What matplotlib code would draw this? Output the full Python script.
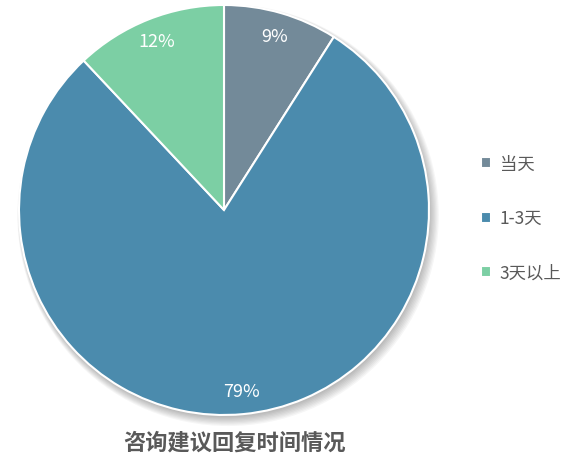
import matplotlib.pyplot as plt
from matplotlib.patches import Circle

plt.rcParams['font.family'] = ['Noto Sans CJK SC', 'DejaVu Sans']

labels = ['当天', '1-3天', '3天以上']
values = [9, 79, 12]
colors = ['#738a99', '#4b8bad', '#7ccfa4']
title = '咨询建议回复时间情况'

fig = plt.figure(figsize=(5.77, 4.64), dpi=100)
# pie box: center (224,211) px, radius 205 px
ax = fig.add_axes([19/577, 48/464, 410/577, 410/464])

# soft shadow under the pie
for i in range(8):
    ax.add_patch(Circle((0.006 + i*0.002, -0.012 - i*0.002), 1.0 + i*0.004,
                        color='black', alpha=0.035, lw=0, zorder=0, clip_on=False))

wedges, texts, autotexts = ax.pie(
    values, colors=colors, startangle=90, counterclock=False, radius=1.0,
    autopct='%d%%', pctdistance=0.885,
    wedgeprops=dict(edgecolor='white', linewidth=1.5),
    textprops=dict(color='white', fontsize=13))
for w in wedges:
    w.set_zorder(2)
for t in autotexts:
    t.set_zorder(3)

ax.set_xlim(-1, 1)
ax.set_ylim(-1, 1)
ax.set_aspect('equal')
ax.axis('off')

ax.legend(wedges, labels, loc='center left', bbox_to_anchor=(446/410, 0.48),
          frameon=False, fontsize=12.5, labelcolor='#595959', handlelength=0.6,
          handleheight=0.6, handletextpad=0.5, labelspacing=2.1)

fig.text(234/577, 1 - 443/464, title, ha='center', va='center',
         fontsize=16, fontweight='bold', color='#595959')

fig.savefig('out.png', dpi=100)
